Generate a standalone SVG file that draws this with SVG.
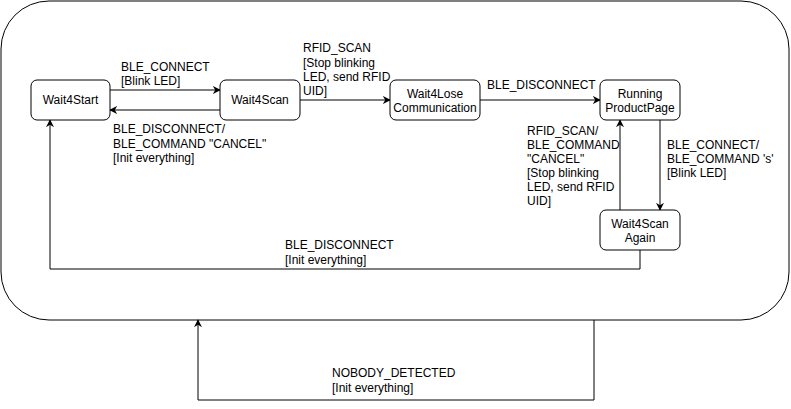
<svg xmlns="http://www.w3.org/2000/svg" width="791" height="409" viewBox="0 0 791 409">
<defs>
<style>
.node rect{fill:#fff;stroke:#000;stroke-width:1}
text{font-family:"Liberation Sans",Arial,sans-serif;font-size:12px;fill:#000}
.c{text-anchor:middle}
.edge{fill:none;stroke:#000;stroke-width:1;marker-end:url(#arr)}
.line{fill:none;stroke:#000;stroke-width:1}
</style>
<marker id="arr" viewBox="0 0 10 10" refX="9" refY="5" markerWidth="8" markerHeight="8" orient="auto" markerUnits="userSpaceOnUse">
<path d="M0,0 L10,5 L0,10 L3,5 z" fill="#000"/>
</marker>
</defs>
<rect width="791" height="409" fill="#fff"/>
<rect id="container" x="1" y="1" width="788" height="319" rx="48" ry="48" fill="#fff" stroke="#000" stroke-width="1"/>
<g id="connectors">
<path class="edge" d="M110,90 H220"/>
<path class="edge" d="M220,110 H110"/>
<path class="edge" d="M300,100 H390"/>
<path class="edge" d="M480,100 H600"/>
<path class="edge" d="M660,120 V210"/>
<path class="edge" d="M620,210 V120"/>
<path class="edge" d="M640,250 V269 H50 V120"/>
<path class="edge" d="M594,320 V400 H198 V320"/>
</g>
<g id="labels">
<text x="121" y="71">BLE_CONNECT</text>
<text x="121" y="85">[Blink LED]</text>
<text x="303" y="52">RFID_SCAN</text>
<text x="303" y="67">[Stop blinking</text>
<text x="303" y="81">LED, send RFID</text>
<text x="303" y="95">UID]</text>
<text x="113" y="133">BLE_DISCONNECT/</text>
<text x="113" y="148">BLE_COMMAND "CANCEL"</text>
<text x="113" y="162">[Init everything]</text>
<text x="487" y="89">BLE_DISCONNECT</text>
<text x="527" y="135">RFID_SCAN/</text>
<text x="527" y="149">BLE_COMMAND</text>
<text x="527" y="163">"CANCEL"</text>
<text x="527" y="177">[Stop blinking</text>
<text x="527" y="191">LED, send RFID</text>
<text x="527" y="205">UID]</text>
<text x="667" y="149">BLE_CONNECT/</text>
<text x="667" y="163">BLE_COMMAND 's'</text>
<text x="667" y="177">[Blink LED]</text>
<text x="285" y="249">BLE_DISCONNECT</text>
<text x="285" y="264">[Init everything]</text>
<text x="332" y="377">NOBODY_DETECTED</text>
<text x="332" y="392">[Init everything]</text>
</g>
<g id="Wait4Start" class="node">
<rect x="31" y="80" width="79" height="40" rx="6"/>
<text class="c" x="70.5" y="104">Wait4Start</text>
</g>
<g id="Wait4Scan" class="node">
<rect x="220" y="80" width="80" height="40" rx="6"/>
<text class="c" x="260" y="104">Wait4Scan</text>
</g>
<g id="Wait4Lose" class="node">
<rect x="390" y="80" width="90" height="40" rx="6"/>
<text class="c" x="435" y="98">Wait4Lose</text>
<text class="c" x="435" y="112">Communication</text>
</g>
<g id="RunningProductPage" class="node">
<rect x="600" y="80" width="80" height="40" rx="6"/>
<text class="c" x="640" y="98">Running</text>
<text class="c" x="640" y="112">ProductPage</text>
</g>
<g id="Wait4ScanAgain" class="node">
<rect x="600" y="210" width="80" height="40" rx="6"/>
<text class="c" x="640" y="228">Wait4Scan</text>
<text class="c" x="640" y="242">Again</text>
</g>
</svg>
